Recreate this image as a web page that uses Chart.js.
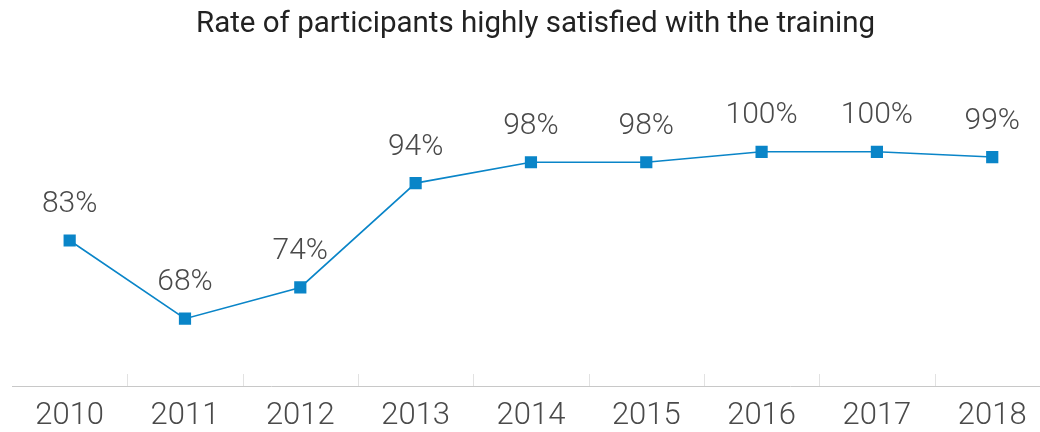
<!DOCTYPE html>
<html>
<head>
<meta charset="utf-8">
<script src="https://cdn.jsdelivr.net/npm/chart.js@4.4.0/dist/chart.umd.min.js"></script>
<style>
  html, body { margin: 0; padding: 0; background: #fff; overflow: hidden; }
  #wrap { position: relative; width: 1059px; height: 432px; }
</style>
</head>
<body>
<div id="wrap"><canvas id="satChart"></canvas></div>
<script>
const years = ["2010", "2011", "2012", "2013", "2014", "2015", "2016", "2017", "2018"];
const satisfied = [83, 68, 74, 94, 98, 98, 100, 100, 99];

// short separators between the years, above the axis line
const tickMarks = {
  id: "tickMarks",
  afterDraw(chart) {
    const x = chart.scales.x;
    const c = chart.ctx;
    const bottom = chart.chartArea.bottom;
    c.save();
    c.strokeStyle = "#e2e2e2";
    c.lineWidth = 1;
    for (let i = 0; i < years.length - 1; i++) {
      const px = Math.round((x.getPixelForValue(i) + x.getPixelForValue(i + 1)) / 2) + 0.5;
      c.beginPath();
      c.moveTo(px, bottom - 12);
      c.lineTo(px, bottom);
      c.stroke();
    }
    c.restore();
  }
};

// percent labels above each point
const pointLabels = {
  id: "pointLabels",
  afterDatasetsDraw(chart) {
    const meta = chart.getDatasetMeta(0);
    const c = chart.ctx;
    c.save();
    c.font = "300 30px Roboto";
    c.fillStyle = "#4a4a4a";
    c.textAlign = "center";
    c.textBaseline = "middle";
    meta.data.forEach(function (pt, i) {
      c.fillText(satisfied[i] + "%", pt.x, pt.y - 36);
    });
    c.restore();
  }
};

new Chart(document.getElementById("satChart").getContext("2d"), {
  type: "line",
  data: {
    labels: years,
    datasets: [
      {
        data: satisfied,
        borderColor: "#0a85c8",
        borderWidth: 1.6,
        backgroundColor: "#0a85c8",
        pointStyle: "rect",
        pointRadius: 7.5,
        pointHoverRadius: 7.5,
        tension: 0,
      },
    ],
  },
  options: {
    responsive: true,
    maintainAspectRatio: false,
    animation: false,
    layout: { padding: { left: 12, right: 0, top: 0, bottom: -15 } },
    plugins: {
      legend: { display: false },
      tooltip: { enabled: false },
      title: {
        display: true,
        text: "Rate of participants highly satisfied with the training",
        color: "#222",
        font: { family: "Roboto", size: 29.5, weight: "normal" },
        padding: { top: 7, bottom: 27 },
      },
    },
    scales: {
      x: {
        offset: true,
        grid: { display: false, drawTicks: false },
        border: { display: true, color: "#c8c8c8", width: 1 },
        ticks: {
          color: "#4a4a4a",
          font: { family: "Roboto", size: 31, weight: "300", lineHeight: 1 },
          padding: 15,
          maxRotation: 0,
        },
      },
      y: {
        display: false,
        min: 55.1,
        max: 115.8,
      },
    },
  },
  plugins: [tickMarks, pointLabels],
});
</script>
</body>
</html>
